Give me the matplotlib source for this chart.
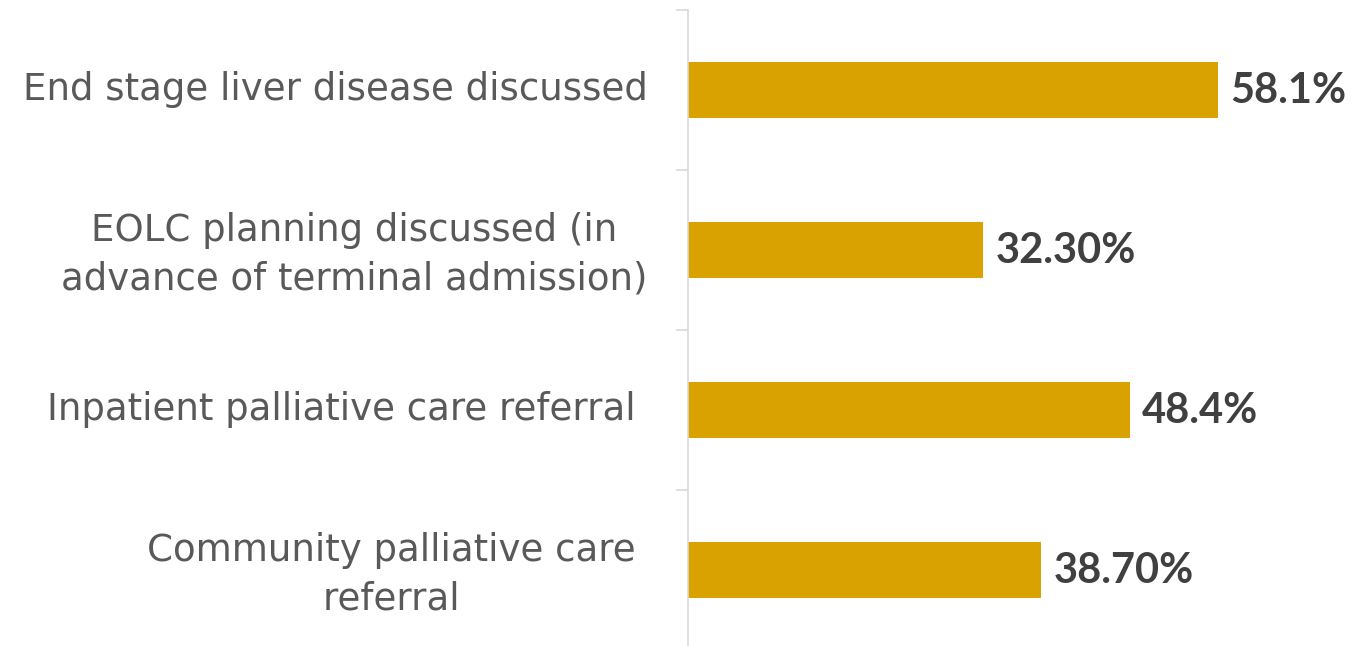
import numpy as np
import matplotlib
matplotlib.use('Agg')
import matplotlib.pyplot as plt
import matplotlib.transforms as mtransforms

categories = ['End stage liver disease discussed',
              'EOLC planning discussed (in\nadvance of terminal admission)',
              'Inpatient palliative care referral ',
              'Community palliative care \nreferral ']
values = [58.1, 32.30, 48.4, 38.70]
value_labels = ['58.1%', '32.30%', '48.4%', '38.70%']

bar_color = '#DAA200'
axis_color = '#D9D9D9'

fig = plt.figure(figsize=(13.57, 6.46), dpi=100)
ax = fig.add_axes([688 / 1357, -4 / 646, 593 / 1357, 640 / 646])

y = np.arange(len(categories))
ax.barh(y, values, height=0.354, color=bar_color, zorder=2)
ax.set_xlim(0, 65)
ax.set_ylim(3.5, -0.5)

for yi, v, lab in zip(y, values, value_labels):
    ax.annotate(lab, (v, yi), xytext=(9, -0.5), textcoords='offset points',
                ha='left', va='center', fontsize=30, fontweight='bold',
                family='Lato', color='#404040')

for s in ['top', 'right', 'bottom']:
    ax.spines[s].set_visible(False)
ax.spines['left'].set_color(axis_color)
ax.spines['left'].set_linewidth(1.2)

ax.set_xticks([])
ax.set_yticks(y)
ax.set_yticklabels(categories, fontsize=26.7, family='DejaVu Sans', color='#595959',
                   multialignment='center', linespacing=1.4)
ax.set_yticks(np.arange(-0.5, 4, 1), minor=True)
ax.tick_params(axis='y', which='major', length=0, pad=29)
ax.tick_params(axis='y', which='minor', length=9, width=1.2, color=axis_color)

# nudge the category labels up a little
shift = mtransforms.ScaledTranslation(0, 0.05, fig.dpi_scale_trans)
for t in ax.get_yticklabels():
    t.set_transform(t.get_transform() + shift)

fig.savefig('out.png', dpi=100)
